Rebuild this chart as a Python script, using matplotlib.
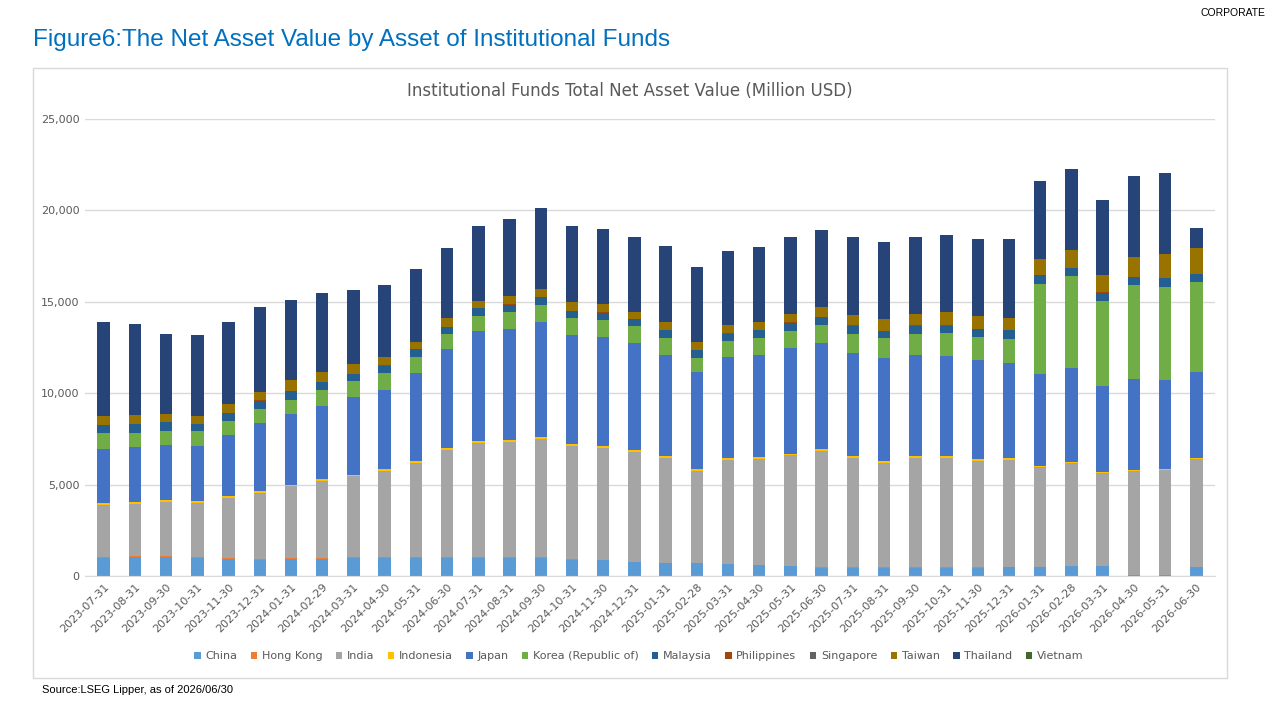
import matplotlib
matplotlib.use("Agg")
import matplotlib.pyplot as plt
import numpy as np
from matplotlib.patches import Rectangle

dates = ["2023-07-31","2023-08-31","2023-09-30","2023-10-31","2023-11-30","2023-12-31",
         "2024-01-31","2024-02-29","2024-03-31","2024-04-30","2024-05-31","2024-06-30",
         "2024-07-31","2024-08-31","2024-09-30","2024-10-31","2024-11-30","2024-12-31",
         "2025-01-31","2025-02-28","2025-03-31","2025-04-30","2025-05-31","2025-06-30",
         "2025-07-31","2025-08-31","2025-09-30","2025-10-31","2025-11-30","2025-12-31",
         "2026-01-31","2026-02-28","2026-03-31","2026-04-30","2026-05-31","2026-06-30"]

china = [1000,1050,1050,1000,950,900,950,950,1000,1000,1000,1000,1000,1000,1000,900,850,750,
         700,700,650,600,550,450,450,450,450,450,450,500,500,550,550,50,50,500]
hong_kong = [30]*20 + [15]*13 + [0,0,15]
india = [2870,2870,2970,2970,3270,3620,3920,4220,4420,4720,5170,5870,6270,6320,6470,6170,6120,6020,
         5720,5020,5685,5785,6035,6385,5985,5735,5985,5985,5835,5835,5435,5635,5085,5700,5750,5885]
indonesia = [100]*30 + [50]*6
japan = [2950,3000,3000,3000,3350,3700,3850,4000,4250,4350,4800,5400,6000,6050,6300,6000,6000,5850,
         5550,5300,5550,5600,5750,5800,5650,5600,5550,5500,5400,5200,5050,5150,4700,5000,4850,4700]
korea = [850,800,800,850,800,800,800,900,850,900,900,850,850,950,950,900,900,900,
         900,800,850,900,950,1000,1050,1100,1150,1250,1300,1300,4950,5000,4650,5100,5100,4950]
malaysia = [450,450,450,350,400,450,450,400,400,400,400,350,400,400,400,400,400,400,
            450,400,400,450,450,400,450,400,450,400,400,500,450,450,450,450,500,400]
philippines = [20]*36
singapore = [0]*36
taiwan = [500,500,450,450,500,450,600,550,550,450,400,500,400,450,450,450,450,350,
          450,450,450,450,450,550,550,650,600,700,700,650,850,950,950,1100,1300,1400]
thailand = [5150,4950,4350,4400,4500,4650,4400,4300,4000,3950,4000,3850,4050,4200,4400,4200,4100,4150,
            4150,4100,4050,4100,4200,4200,4250,4200,4250,4250,4200,4300,4300,4450,4100,4400,4450,1100]
vietnam = [0]*36

series = [("China", china, "#5B9BD5"), ("Hong Kong", hong_kong, "#ED7D31"),
          ("India", india, "#A5A5A5"), ("Indonesia", indonesia, "#FFC000"),
          ("Japan", japan, "#4472C4"), ("Korea (Republic of)", korea, "#70AD47"),
          ("Malaysia", malaysia, "#255E91"), ("Philippines", philippines, "#9E480E"),
          ("Singapore", singapore, "#636363"), ("Taiwan", taiwan, "#997300"),
          ("Thailand", thailand, "#264478"), ("Vietnam", vietnam, "#43682B")]

fig = plt.figure(figsize=(12.8, 7.2), dpi=100)
fig.patch.set_facecolor("white")
fig.text(33/1280, 1-40/720, "Figure6:The Net Asset Value by Asset of Institutional Funds",
         fontsize=17.5, color="#0070C0", va="center", ha="left", family="Liberation Sans")
fig.text(1265/1280, 1-13/720, "CORPORATE", fontsize=7.5, ha="right", va="center", family="Liberation Sans")
fig.text(42/1280, 1-690/720, "Source:LSEG Lipper, as of 2026/06/30", fontsize=8, ha="left", va="center",
         family="Liberation Sans")
fig.patches.append(Rectangle((33/1280, 1-678/720), 1194/1280, 610/720, transform=fig.transFigure,
                             fill=False, edgecolor="#D9D9D9", linewidth=1))
fig.text(630/1280, 1-91/720, "Institutional Funds Total Net Asset Value (Million USD)",
         fontsize=12, color="#595959", ha="center", va="center")

ax = fig.add_axes([85/1280, 1-576/720, (1215-85)/1280, (576-119)/720])
x = np.arange(len(dates))
bottom = np.zeros(len(dates))
for name, vals, col in series:
    v = np.array(vals, dtype=float)
    ax.bar(x, v, bottom=bottom, width=0.4, color=col, label=name)
    bottom += v
ax.set_ylim(0, 25000)
ax.set_xlim(-0.6, len(dates) - 0.4)
ax.set_yticks(np.arange(0, 25001, 5000))
ax.set_yticklabels([f"{t:,}" for t in range(0, 25001, 5000)], fontsize=8, color="#595959")
ax.set_xticks(x)
ax.set_xticklabels(dates, rotation=45, ha="right", rotation_mode="anchor", fontsize=8, color="#595959")
ax.grid(axis="y", color="#D9D9D9", linewidth=1)
ax.set_axisbelow(True)
for s in ["top", "right", "left"]:
    ax.spines[s].set_visible(False)
ax.spines["bottom"].set_color("#D9D9D9")
ax.tick_params(length=0, pad=4)
ax.legend(loc="center", bbox_to_anchor=(0.49, -0.175), ncol=12, frameon=False, fontsize=8,
          handlelength=0.6, handleheight=0.6, columnspacing=1.2, handletextpad=0.4,
          labelcolor="#595959")
fig.savefig("out.png", dpi=100)
